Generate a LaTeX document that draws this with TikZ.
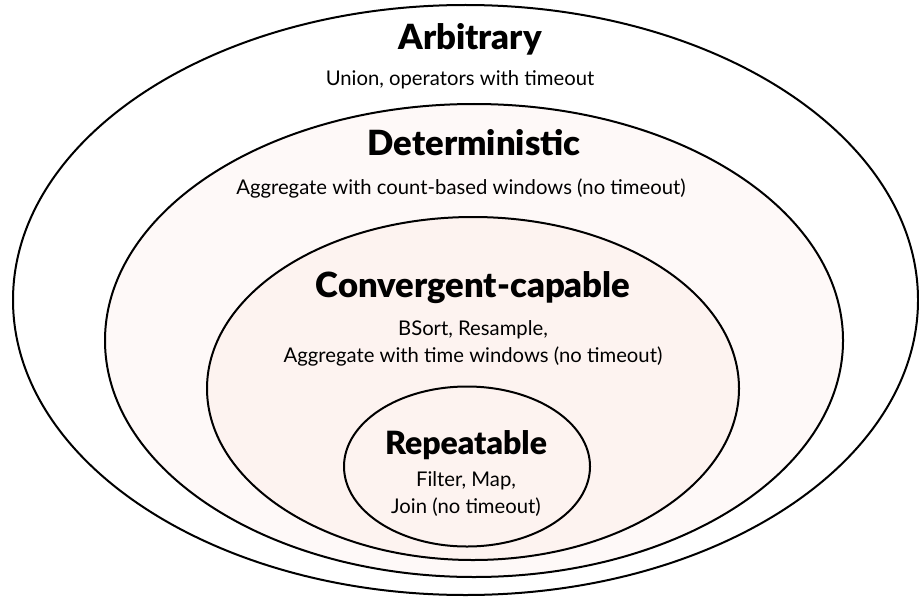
\documentclass[tikz,border=0pt]{standalone}
\usepackage{fontspec}
\setmainfont{Lato}
\newfontfamily\heavyfont{Lato Black}
\definecolor{detfill}{RGB}{254,249,248}
\definecolor{convfill}{RGB}{253,243,240}
\begin{document}
\begin{tikzpicture}[x=0.75pt,y=-0.75pt,
  ring/.style={draw=black, line width=1.5pt},
  settitle/.style={font=\fontsize{26}{30}\heavyfont, anchor=base, inner sep=0pt},
  setbody/.style={font=\fontsize{15.2}{18}\selectfont, anchor=base, inner sep=0pt}]
\useasboundingbox (0,0) rectangle (919,599);

% nested classes, outermost first
\draw[ring, fill=white]         (465.5,300)   ellipse [x radius=452.5, y radius=295];
\draw[ring, fill=detfill]       (474,340.5)   ellipse [x radius=369,   y radius=236.5];
\draw[ring, fill=convfill]      (473,388.5)   ellipse [x radius=266,   y radius=171.5];
\draw[ring, fill=convfill]      (467,466.5)   ellipse [x radius=123,   y radius=80];

% labels
\node[settitle] (arbT)  at (470,50)  {Arbitrary};
\node[setbody]  (arbD)  at (460,86)  {Union, operators with timeout};
\node[settitle] (detT)  at (474,156) {Deterministic};
\node[setbody]  (detD)  at (461,194) {Aggregate with count-based windows (no timeout)};
\node[settitle] (conT)  at (473,297) {Convergent-capable};
\node[setbody]  (conD1) at (473,335) {BSort, Resample,};
\node[setbody]  (conD2) at (473,362) {Aggregate with time windows (no timeout)};
\node[settitle, font=\fontsize{24}{28}\heavyfont] (repT) at (466,454) {Repeatable};
\node[setbody]  (repD1) at (466,486) {Filter, Map,};
\node[setbody]  (repD2) at (466,513) {Join (no timeout)};
\end{tikzpicture}
\end{document}
